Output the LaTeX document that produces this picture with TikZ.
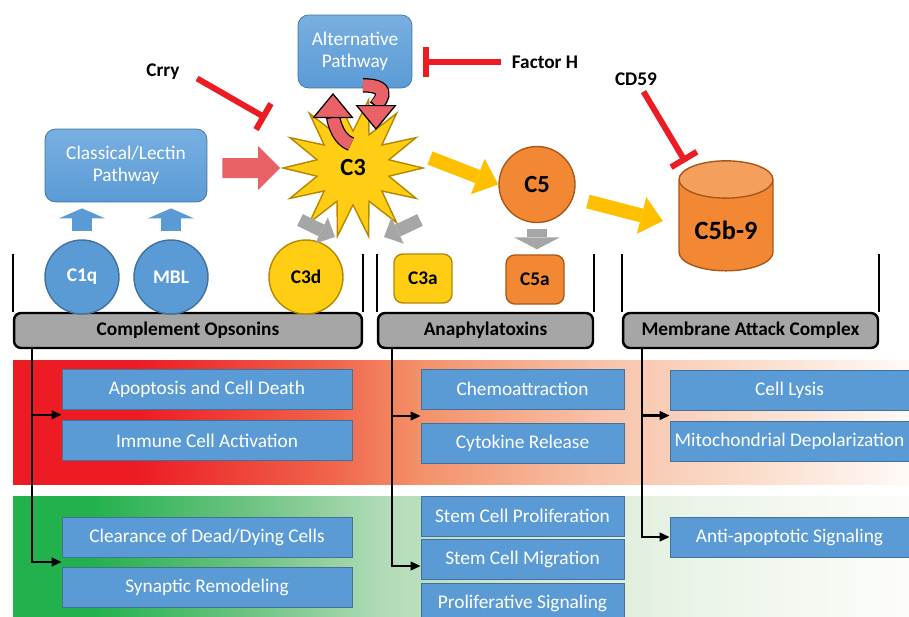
\documentclass[tikz,border=0pt]{standalone}
\usepackage{fontspec}
\setmainfont{Carlito}
\usetikzlibrary{shapes,arrows.meta,positioning,calc}

\definecolor{boxblue}{RGB}{91,155,213}
\definecolor{boxtop}{RGB}{120,175,225}
\definecolor{boxedge}{RGB}{65,113,156}
\definecolor{c3yellow}{RGB}{255,206,20}
\definecolor{yedge}{RGB}{180,135,0}
\definecolor{c5orange}{RGB}{242,135,52}
\definecolor{oedge}{RGB}{170,88,25}
\definecolor{inhred}{RGB}{237,28,36}
\definecolor{pinkred}{RGB}{232,98,104}
\definecolor{arrowgray}{RGB}{166,166,166}
\definecolor{arrowyellow}{RGB}{255,192,0}
% band colours
\definecolor{rA}{RGB}{237,28,36}
\definecolor{rB}{RGB}{240,100,75}
\definecolor{rC}{RGB}{243,145,105}
\definecolor{rD}{RGB}{248,195,170}
\definecolor{rE}{RGB}{251,222,205}
\definecolor{rF}{RGB}{255,250,248}
\definecolor{gA}{RGB}{34,177,76}
\definecolor{gB}{RGB}{110,195,130}
\definecolor{gC}{RGB}{180,220,185}
\definecolor{gD}{RGB}{215,235,210}
\definecolor{gE}{RGB}{235,244,232}
\definecolor{gF}{RGB}{252,253,250}
\pgfdeclarehorizontalshading{redband}{100bp}{color(0bp)=(rA); color(32bp)=(rA); color(42.7bp)=(rB); color(47.7bp)=(rC); color(57.8bp)=(rD); color(66.7bp)=(rE); color(75bp)=(rF); color(100bp)=(rF)}
\pgfdeclarehorizontalshading{greenband}{100bp}{color(0bp)=(gA); color(29.3bp)=(gA); color(38.2bp)=(gB); color(46bp)=(gC); color(55bp)=(gD); color(63.3bp)=(gE); color(75bp)=(gF); color(100bp)=(gF)}

\tikzset{
  pathbox/.style={draw=boxedge, top color=boxtop, bottom color=boxblue, rounded corners=6pt, text=white, align=center, minimum height=1.46cm, font=\fontsize{11}{12.5}\selectfont},
  outbox/.style={draw=boxedge, fill=boxblue, text=white, minimum height=0.8cm, inner sep=1pt},
  leftcol/.style={outbox, minimum width=5.8cm},
  midcol/.style={outbox, minimum width=4.06cm},
  rightcol/.style={outbox, minimum width=4.78cm},
  lab/.style={font=\bfseries\fontsize{11}{13}\selectfont},
  ball/.style={circle, line width=0.8pt, inner sep=0pt, minimum size=1.48cm, font=\bfseries\fontsize{11}{13}\selectfont},
  chip/.style={rounded corners=5pt, line width=0.8pt, minimum width=1.16cm, minimum height=0.98cm, font=\bfseries\fontsize{11}{13}\selectfont},
  starburst/.style={star, star points=14, shape border rotate=90, star point ratio=1.9, minimum size=2.8cm, inner sep=0pt, fill=c3yellow, draw=yedge, line width=0.8pt, font=\bfseries\fontsize{14}{16}\selectfont},
  binbar/.style={draw=black, line width=1.4pt, fill=arrowgray, rounded corners=4pt, minimum height=0.7cm, font=\bfseries\fontsize{11}{13}\selectfont},
  binside/.style={line width=1.4pt},
  link/.style={line width=1.3pt, -{Triangle[length=0.2cm,width=0.17cm]}},
  inhib/.style={inhred, line width=3.4pt, -{Bar[width=0.6cm]}},
  pinkarrow/.style={pinkred, line width=0.4cm, -{Triangle[length=0.44cm,width=0.88cm,line width=0pt]}},
  yarrow/.style={arrowyellow, line width=0.28cm, -{Triangle[length=0.44cm,width=0.76cm,line width=0pt]}},
  grayarrow/.style={arrowgray, line width=0.4cm, -{Triangle[length=0.24cm,width=0.92cm,line width=0pt]}},
  smallgray/.style={arrowgray, line width=0.26cm, -{Triangle[length=0.3cm,width=0.58cm,line width=0pt]}},
  bluearrow/.style={boxblue, line width=0.4cm, -{Triangle[length=0.2cm,width=0.92cm,line width=0pt]}},
  curl/.style={pinkred, line width=6.8pt, -{Triangle[length=0.5cm,width=0.82cm,line width=0.7pt,fill=pinkred,color=black]}, preaction={draw=black, line width=8.2pt, arrows=-, shorten >=0.47cm}}
}

\begin{document}
\begin{tikzpicture}[x=0.02cm, y=-0.02cm, every node/.style={font=\fontsize{11}{13}\selectfont}]
  \useasboundingbox (0,0) rectangle (909,616);

  % Background bands
  \shade[shading=redband] (13,360) rectangle (909,484);
  \shade[shading=greenband] (13,496) rectangle (909,616);

  % Bins
  \node[binbar, minimum width=6.96cm] (opson) at (188,330.5) {Complement Opsonins};
  \node[binbar, minimum width=4.3cm] (anaph) at (485.5,330.5) {Anaphylatoxins};
  \node[binbar, minimum width=5.1cm] (mac) at (750.5,330.5) {Membrane Attack Complex};
  \draw[binside] (opson.north west) -- ++(0,-58);
  \draw[binside] (opson.north east) -- ++(0,-58);
  \draw[binside] (anaph.north west) -- ++(0,-58);
  \draw[binside] (anaph.north east) -- ++(0,-58);
  \draw[binside] (mac.north west) -- ++(0,-58);
  \draw[binside] (mac.north east) -- ++(0,-58);

  % Effects
  \node[leftcol] (apop) at (207,389) {Apoptosis and Cell Death};
  \node[leftcol] (immune) at (207,440.5) {Immune Cell Activation};
  \node[leftcol] (clear) at (207,537) {Clearance of Dead/Dying Cells};
  \node[leftcol] (synap) at (207,587) {Synaptic Remodeling};
  \node[midcol] (chemo) at (522.5,389) {Chemoattraction};
  \node[midcol] (cyto) at (522.5,443) {Cytokine Release};
  \node[midcol] (stemp) at (522.5,516) {Stem Cell Proliferation};
  \node[midcol] (stemm) at (522.5,559) {Stem Cell Migration};
  \node[midcol] (prolif) at (522.5,603) {Proliferative Signaling};
  \node[rightcol] (lysis) at (789.5,390) {Cell Lysis};
  \node[rightcol] (mito) at (789.5,441) {Mitochondrial Depolarization};
  \node[rightcol] (anti) at (789.5,537) {Anti-apoptotic Signaling};

  % Links from bins
  \coordinate (t1) at ([xshift=0.38cm]opson.south west);
  \coordinate (t2) at ([xshift=0.3cm]anaph.south west);
  \coordinate (t3) at ([xshift=0.4cm]mac.south west);
  \coordinate (j1) at ($(apop.south west)!0.5!(immune.north west)$);
  \coordinate (j2) at ($(clear.south west)!0.5!(synap.north west)$);
  \coordinate (j3) at ($(chemo.south west)!0.5!(cyto.north west)$);
  \coordinate (j4) at ([yshift=-0.14cm]stemm.west);
  \coordinate (j5) at ($(lysis.south west)!0.5!(mito.north west)$);
  \draw[link] (t1) |- (j1);
  \draw[link] (t1) |- (j2);
  \draw[link] (t2) |- (j3);
  \draw[link] (t2) |- (j4);
  \draw[link] (t3) |- (j5);
  \draw[link] (t3) |- (anti.west);

  % Components
  \node[ball, fill=boxblue, draw=boxedge, text=white] (c1q) at (82,277) {C1q};
  \node[ball, fill=boxblue, draw=boxedge, text=white] (mbl) at (171,277) {MBL};
  \node[ball, fill=c3yellow, draw=yedge] (c3d) at (306,277) {C3d};
  \node[chip, fill=c3yellow, draw=yedge] (c3a) at (423,278.5) {C3a};
  \node[chip, fill=c5orange, draw=oedge] (c5a) at (535,279.5) {C5a};

  % Pathways and cascade
  \node[pathbox, minimum width=3.24cm] (classical) at (126,165.5) {Classical/Lectin\\Pathway};
  \node[starburst] (c3) at (353,168) {C3};
  \draw[pinkarrow, shorten <=0.3cm] (classical.east |- c3) -- (c3);
  \draw[curl] ([shift={(-2,-24)}]c3.center) .. controls +(-16,-6) and +(0,22) .. (333,93);
  \node[pathbox, minimum width=2.28cm] (alt) at (355,51.5) {Alternative\\Pathway};
  \draw[curl] ([shift={(8,-3)}]alt.south) .. controls +(34,0) and +(0,-25) .. ([shift={(23,-38)}]c3.center);
  \node[ball, fill=c5orange, draw=oedge, minimum size=1.52cm, font=\bfseries\fontsize{14}{16}\selectfont] (c5) at (537,184.5) {C5};
  \node[cylinder, shape border rotate=90, aspect=0.5, minimum width=1.88cm, minimum height=2.2cm, cylinder uses custom fill, cylinder body fill=c5orange, cylinder end fill=c5orange!80!white, draw=oedge, line width=0.8pt, font=\bfseries\fontsize{15}{17}\selectfont] (c5b9) at (726,230) {C5b-9};

  % Block arrows
  \draw[yarrow] ([shift={(4,-10)}]c3.east) -- (c5.west);
  \draw[yarrow, shorten <=0.3cm, shorten >=0.32cm] (c5.-20) -- ([yshift=0.1cm]c5b9.west);
  \draw[bluearrow, shorten <=0.16cm, shorten >=0.12cm] (c1q.north) -- (c1q.north |- classical.south);
  \draw[bluearrow, shorten <=0.16cm, shorten >=0.12cm] (mbl.north) -- (mbl.north |- classical.south);
  \draw[grayarrow, shorten <=0.12cm, shorten >=0.1cm] (c5.south) -- (c5.south |- c5a.north);
  \draw[smallgray] ([shift={(-53,52)}]c3.center) -- ([shift={(-18,69)}]c3.center);
  \draw[smallgray] ([shift={(67,52)}]c3.center) -- ([shift={(31,69)}]c3.center);

  % Inhibitors
  \node[lab] (crry) at (163,72) {Crry};
  \node[lab] (facth) at (545,62) {Factor H};
  \node[lab] (cd59) at (636,79) {CD59};
  \draw[inhib, shorten <=0.26cm] (crry.east) -- ($(crry.east)!0.48!(c3)$);
  \draw[inhib, shorten <=0.1cm, shorten >=0.22cm] (facth.west) -- (facth.west -| alt.east);
  \draw[inhib] (cd59) -- ($(cd59)!0.55!(c5b9)$);
\end{tikzpicture}
\end{document}
